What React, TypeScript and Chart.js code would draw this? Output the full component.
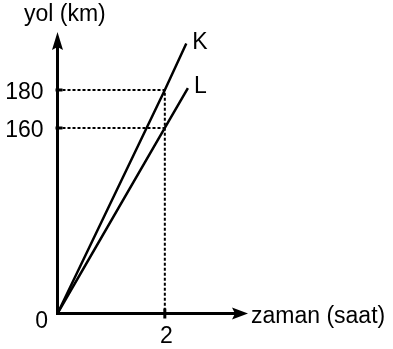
import React, { useEffect, useRef } from 'react';
import { Chart, LinearScale, registerables } from 'chart.js';

// ---- data ----
const timeTicks = [2];
const distanceTicks = [160, 180];
const kLine = [
  { x: 0, y: 0 },
  { x: 2, y: 180 },
  { x: 2.4, y: 204 },
];
const lLine = [
  { x: 0, y: 0 },
  { x: 2, y: 160 },
  { x: 2.43, y: 181 },
];
const kGuide = [
  { x: 0, y: 180 },
  { x: 2, y: 180 },
  { x: 2, y: 0 },
];
const lGuide = [
  { x: 0, y: 160 },
  { x: 2, y: 160 },
];
const seriesNames = ['K', 'L'];
const xTitle = 'zaman (saat)';
const yTitle = 'yol (km)';

// schematic (non-proportional) distance axis: value -> fraction of axis height
const Y_BREAKS: [number, number][] = [
  [0, 0],
  [160, 0.659],
  [180, 0.794],
  [210, 1],
];

class BrokenScale extends LinearScale {
  static id = 'broken';
  getPixelForValue(value: number) {
    if (value === null || value === undefined || isNaN(value)) return NaN;
    let f = 0;
    const b = Y_BREAKS;
    if (value <= b[0][0]) f = b[0][1];
    else if (value >= b[b.length - 1][0]) {
      const [v0, f0] = b[b.length - 2];
      const [v1, f1] = b[b.length - 1];
      f = f1 + ((value - v1) * (f1 - f0)) / (v1 - v0);
    } else {
      for (let i = 0; i < b.length - 1; i++) {
        const [v0, f0] = b[i];
        const [v1, f1] = b[i + 1];
        if (value >= v0 && value <= v1) {
          f = f0 + ((value - v0) * (f1 - f0)) / (v1 - v0);
          break;
        }
      }
    }
    return this.getPixelForDecimal(f);
  }
  getValueForPixel(pixel: number) {
    const f = this.getDecimalForPixel(pixel);
    const b = Y_BREAKS;
    for (let i = 0; i < b.length - 1; i++) {
      const [v0, f0] = b[i];
      const [v1, f1] = b[i + 1];
      if (f >= f0 && f <= f1) return v0 + ((f - f0) * (v1 - v0)) / (f1 - f0);
    }
    return f < 0 ? b[0][0] : b[b.length - 1][0];
  }
}

Chart.register(...registerables, BrokenScale);

const FONT = '23px "Liberation Sans", Arial, sans-serif';

const axesPlugin = {
  id: 'schematicAxes',
  afterDatasetsDraw(chart: any) {
    const { ctx, scales } = chart;
    const xs = scales.x;
    const ys = scales.y;
    const ox = xs.getPixelForValue(0);
    const oy = ys.getPixelForValue(0);
    const top = chart.chartArea.top;
    const right = chart.chartArea.right;
    ctx.save();
    ctx.strokeStyle = '#000';
    ctx.fillStyle = '#000';
    ctx.lineWidth = 3;
    ctx.lineCap = 'butt';
    // y axis
    ctx.beginPath();
    ctx.moveTo(ox, oy + 1.5);
    ctx.lineTo(ox, top + 12);
    ctx.stroke();
    // x axis
    ctx.beginPath();
    ctx.moveTo(ox - 1.5, oy);
    ctx.lineTo(right - 10, oy);
    ctx.stroke();
    // y arrow
    ctx.beginPath();
    ctx.moveTo(ox, top);
    ctx.lineTo(ox + 5.5, top + 18);
    ctx.lineTo(ox, top + 15);
    ctx.lineTo(ox - 5.5, top + 18);
    ctx.closePath();
    ctx.fill();
    // x arrow
    ctx.beginPath();
    ctx.moveTo(right, oy);
    ctx.lineTo(right - 16, oy - 6);
    ctx.lineTo(right - 13, oy);
    ctx.lineTo(right - 16, oy + 6);
    ctx.closePath();
    ctx.fill();
    // tick marks
    ctx.lineWidth = 3;
    distanceTicks.forEach((v) => {
      const py = ys.getPixelForValue(v);
      ctx.beginPath();
      ctx.moveTo(ox - 2, py);
      ctx.lineTo(ox + 5, py);
      ctx.stroke();
    });
    timeTicks.forEach((v) => {
      const px = xs.getPixelForValue(v);
      ctx.beginPath();
      ctx.moveTo(px, oy - 5);
      ctx.lineTo(px, oy + 5);
      ctx.stroke();
    });
    // labels
    ctx.font = FONT;
    ctx.textBaseline = 'alphabetic';
    ctx.textAlign = 'right';
    distanceTicks.forEach((v) => {
      const py = ys.getPixelForValue(v);
      ctx.fillText(String(v), ox - 14, py + 8.8);
    });
    ctx.fillText('0', ox - 9.5, oy + 14.5);
    ctx.textAlign = 'center';
    timeTicks.forEach((v) => {
      const px = xs.getPixelForValue(v);
      ctx.fillText(String(v), px + 1.5, oy + 29);
    });
    ctx.textAlign = 'left';
    ctx.fillText(xTitle, right + 3, oy + 9);
    ctx.fillText(yTitle, ox - 33.5, top - 11);
    // series names at line ends
    [kLine, lLine].forEach((d, i) => {
      const last = d[d.length - 1];
      const px = xs.getPixelForValue(last.x);
      const py = ys.getPixelForValue(last.y);
      ctx.fillText(seriesNames[i], px + 6, py + 5);
    });
    ctx.restore();
  },
};

export default function App() {
  const ref = useRef<HTMLCanvasElement | null>(null);
  useEffect(() => {
    if (!ref.current) return;
    const chart = new Chart(ref.current, {
      type: 'line',
      data: {
        datasets: [
          { label: 'K', data: kLine, borderColor: '#000', borderWidth: 2.5, pointRadius: 0, tension: 0 },
          { label: 'L', data: lLine, borderColor: '#000', borderWidth: 2.5, pointRadius: 0, tension: 0 },
          { label: 'K guide', data: kGuide, borderColor: '#000', borderWidth: 2, borderDash: [3, 2], pointRadius: 0, tension: 0 },
          { label: 'L guide', data: lGuide, borderColor: '#000', borderWidth: 2, borderDash: [3, 2], pointRadius: 0, tension: 0 },
        ],
      },
      options: {
        responsive: false,
        animation: false,
        events: [],
        layout: { padding: { left: 57.5, right: 145, top: 32, bottom: 35.5 } },
        plugins: { legend: { display: false }, tooltip: { enabled: false } },
        scales: {
          x: { type: 'linear', min: 0, max: 3.55, display: false },
          y: { type: 'broken' as any, min: 0, max: 210, display: false },
        },
      },
      plugins: [axesPlugin],
    });
    return () => chart.destroy();
  }, []);
  return (
    <div style={{ position: 'fixed', left: 0, top: 0, width: 393, height: 349, background: '#fff' }}>
      <canvas ref={ref} width={393} height={349} />
    </div>
  );
}
